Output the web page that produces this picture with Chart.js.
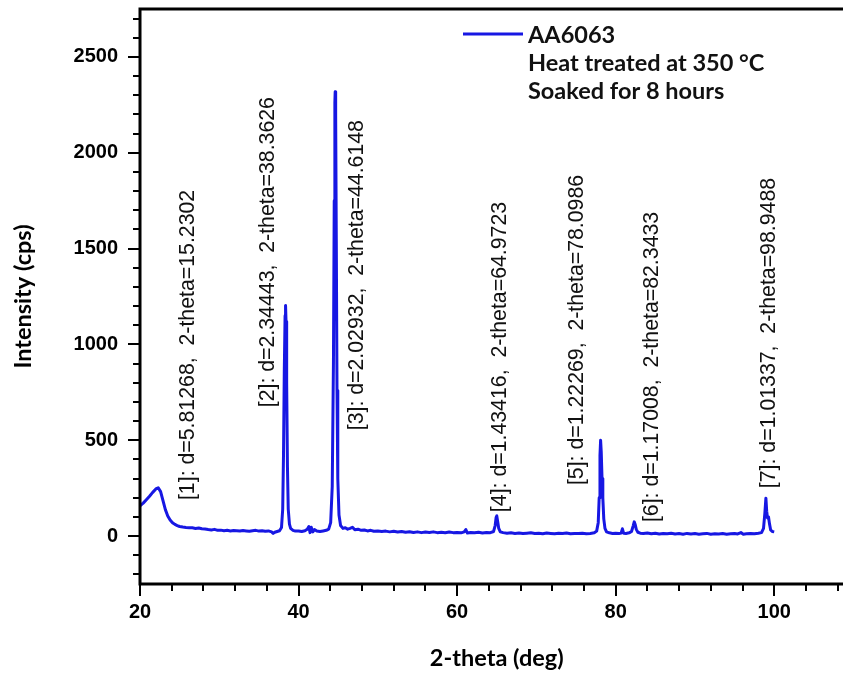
<!DOCTYPE html>
<html>
<head>
<meta charset="utf-8">
<script src="https://cdn.jsdelivr.net/npm/chart.js@4.4.1/dist/chart.umd.min.js"></script>
<style>
  html, body { margin: 0; padding: 0; background: #fff; overflow: hidden; }
  canvas { display: block; }
</style>
</head>
<body>
<canvas id="xrd" width="870" height="674"></canvas>
<script>
// AA6063 XRD scan: 2-theta (deg) vs intensity (cps)
const twoTheta = [
  20.0, 20.4, 20.8, 21.2, 21.6, 22.0, 22.3, 22.6, 22.9, 23.2, 23.5, 23.8, 24.1, 24.4, 24.7,
  25.0, 25.4, 25.8, 26.2, 26.6, 27.0, 27.4, 27.8, 28.2, 28.6, 29.0, 29.4, 29.8, 30.2, 30.6,
  31.0, 31.4, 31.8, 32.2, 32.6, 33.0, 33.4, 33.8, 34.2, 34.6, 35.0, 35.4, 35.8, 36.2, 36.6,
  36.8, 37.0, 37.3, 37.6, 37.85, 38.0, 38.1, 38.2, 38.3, 38.36, 38.42, 38.5, 38.6, 38.7, 38.85,
  39.0, 39.3, 39.6, 40.0, 40.4, 40.8, 41.1, 41.3, 41.45, 41.6, 41.8, 42.0, 42.3, 42.7, 43.1,
  43.5, 43.8, 44.05, 44.25, 44.4, 44.5, 44.58, 44.62, 44.68, 44.76, 44.85, 44.95, 45.1, 45.3, 45.6,
  45.9, 46.2, 46.5, 46.8, 47.1, 47.5, 47.9, 48.3, 48.7, 49.1, 49.5, 50.0, 50.5, 51.0, 51.5,
  52.0, 52.5, 53.0, 53.5, 54.0, 54.5, 55.0, 55.5, 56.0, 56.5, 57.0, 57.5, 58.0, 58.5, 59.0,
  59.5, 60.0, 60.5, 60.9, 61.1, 61.3, 61.7, 62.2, 62.7, 63.2, 63.7, 64.2, 64.6, 64.8, 64.92,
  65.0, 65.1, 65.25, 65.45, 65.8, 66.3, 66.8, 67.3, 67.8, 68.3, 68.8, 69.3, 69.8, 70.3, 70.8,
  71.3, 71.8, 72.3, 72.8, 73.3, 73.8, 74.3, 74.8, 75.3, 75.8, 76.3, 76.8, 77.3, 77.6, 77.8,
  77.92, 78.02, 78.1, 78.18, 78.28, 78.38, 78.5, 78.65, 78.85, 79.2, 79.6, 80.0, 80.4, 80.7, 80.85,
  81.0, 81.3, 81.7, 82.0, 82.2, 82.34, 82.45, 82.6, 82.8, 83.1, 83.5, 84.0, 84.5, 85.0, 85.5,
  86.0, 86.5, 87.0, 87.5, 88.0, 88.5, 89.0, 89.5, 90.0, 90.5, 91.0, 91.5, 92.0, 92.5, 93.0,
  93.5, 94.0, 94.5, 95.0, 95.4, 95.8, 96.1, 96.5, 97.0, 97.5, 98.0, 98.4, 98.65, 98.82, 98.95,
  99.05, 99.15, 99.28, 99.4, 99.55, 99.75, 100.0
];
const intensity = [
  158, 172, 190, 208, 228, 246, 252, 232, 185, 138, 105, 84, 70, 61, 55,
  50, 47, 45, 44, 43, 40, 42, 38, 37, 34, 32, 35, 30, 31, 28,
  30, 27, 29, 28, 26, 29, 27, 25, 28, 30, 26, 28, 25, 27, 22,
  14, 20, 24, 28, 45, 140, 420, 860, 1150, 1203, 1120, 800, 360, 140, 62,
  40, 30, 26, 27, 24, 28, 36, 50, 18, 46, 22, 34, 26, 24, 27,
  30, 36, 70, 260, 900, 1750, 2260, 2318, 2200, 1550, 760, 300, 110, 55, 40,
  44, 36, 40, 46, 33, 36, 30, 32, 27, 30, 25, 27, 24, 26, 22,
  25, 21, 24, 20, 23, 19, 22, 18, 21, 19, 22, 18, 20, 17, 21,
  18, 19, 17, 22, 34, 16, 19, 17, 20, 16, 19, 18, 24, 55, 98,
  106, 80, 40, 22, 18, 15, 17, 14, 16, 13, 15, 17, 13, 15, 12,
  16, 14, 12, 15, 13, 16, 12, 14, 13, 15, 12, 14, 17, 26, 70,
  200, 420, 500, 440, 300, 200, 90, 40, 22, 17, 14, 15, 13, 16, 38,
  15, 14, 17, 24, 52, 74, 62, 35, 20, 15, 13, 16, 12, 15, 11,
  14, 12, 15, 11, 13, 10, 14, 11, 13, 10, 12, 14, 10, 12, 11,
  13, 10, 12, 14, 11, 18, 10, 12, 14, 12, 15, 18, 40, 120, 198,
  130, 95, 100, 65, 32, 24, 22
];

// indexed reflections
const peakNo = [1, 2, 3, 4, 5, 6, 7];
const peakD = ['5.81268', '2.34443', '2.02932', '1.43416', '1.22269', '1.17008', '1.01337'];
const peakTheta = ['15.2302', '38.3626', '44.6148', '64.9723', '78.0986', '82.3433', '98.9488'];

const xTickLabels = [20, 40, 60, 80, 100];
const yTickLabels = [0, 500, 1000, 1500, 2000, 2500];
const legendLines = ['AA6063', 'Heat treated at 350 °C', 'Soaked for 8 hours'];

// where each peak label starts (axis units), text runs upward from here
const labelAt = [
  [26.05, 188], [36.2, 672], [47.35, 552], [65.4, 125], [75.1, 266], [84.6, 73], [99.3, 250]
];

const lineBlue = '#1717e3';
const tickFont = { family: 'Liberation Sans, Arial, sans-serif', size: 20, weight: 'bold' };
const titleFont = { family: 'Lato, sans-serif', size: 23.5, weight: 'bold' };

// frame + outward ticks (long major, short minor)
const frameAndTicks = {
  id: 'frameAndTicks',
  afterDraw(chart) {
    const { ctx, chartArea: { left, right, top, bottom }, scales: { x, y } } = chart;
    ctx.save();
    ctx.strokeStyle = '#000';
    ctx.lineWidth = 2;
    ctx.beginPath();
    for (let v = 20; v <= x.max; v += 4) {
      const px = Math.round(x.getPixelForValue(v));
      ctx.moveTo(px, bottom);
      ctx.lineTo(px, bottom + (v % 20 === 0 ? 12 : 7));
    }
    for (let v = -200; v <= y.max; v += 100) {
      const py = Math.round(y.getPixelForValue(v));
      ctx.moveTo(left, py);
      ctx.lineTo(left - (v % 500 === 0 ? 12 : 7), py);
    }
    ctx.stroke();
    ctx.lineWidth = 3;
    ctx.strokeRect(left, top, right - left, bottom - top);
    ctx.restore();
  }
};

// vertical peak labels
const peakLabels = {
  id: 'peakLabels',
  afterDatasetsDraw(chart) {
    const { ctx, scales: { x, y } } = chart;
    ctx.save();
    ctx.fillStyle = '#111';
    ctx.font = '21.3px "Liberation Sans", Arial, sans-serif';
    ctx.textAlign = 'left';
    ctx.textBaseline = 'middle';
    peakNo.forEach((n, i) => {
      const [lx, ly] = labelAt[i];
      ctx.save();
      ctx.translate(x.getPixelForValue(lx), y.getPixelForValue(ly));
      ctx.rotate(-Math.PI / 2);
      ctx.fillText(`[${n}]: d=${peakD[i]},  2-theta=${peakTheta[i]}`, 0, 0);
      ctx.restore();
    });
    ctx.restore();
  }
};

// legend block, top right inside the frame
const legendBlock = {
  id: 'legendBlock',
  afterDraw(chart) {
    const { ctx } = chart;
    ctx.save();
    ctx.strokeStyle = lineBlue;
    ctx.lineWidth = 3;
    ctx.beginPath();
    ctx.moveTo(463, 34);
    ctx.lineTo(523, 34);
    ctx.stroke();
    ctx.fillStyle = '#111';
    ctx.font = 'bold 23.5px Lato, sans-serif';
    ctx.textAlign = 'left';
    ctx.textBaseline = 'middle';
    legendLines.forEach((t, i) => ctx.fillText(t, 528, 35 + i * 28));
    ctx.restore();
  }
};

new Chart(document.getElementById('xrd'), {
  type: 'line',
  data: {
    datasets: [{
      label: 'AA6063',
      data: twoTheta.map((t, i) => ({ x: t, y: intensity[i] })),
      borderColor: lineBlue,
      borderWidth: 3,
      borderJoinStyle: 'round',
      pointRadius: 0,
      tension: 0,
      fill: false
    }]
  },
  options: {
    responsive: false,
    animation: false,
    layout: { padding: { left: 0, right: 16.5, top: 9, bottom: 0 } },
    scales: {
      x: {
        type: 'linear',
        min: 20,
        max: 110,
        grid: { display: false, drawTicks: false },
        border: { display: false },
        afterBuildTicks: (s) => { s.ticks = xTickLabels.map(v => ({ value: v })); },
        afterFit: (s) => { s.height = 90; s.paddingLeft = 0; s.paddingRight = 0; },
        ticks: { font: tickFont, color: '#000', padding: 16, maxRotation: 0, callback: (v) => String(v) },
        title: { display: true, text: '2-theta (deg)', font: titleFont, color: '#000', padding: { top: 0, bottom: 1 } }
      },
      y: {
        min: -250,
        max: 2750,
        grid: { display: false, drawTicks: false },
        border: { display: false },
        afterBuildTicks: (s) => { s.ticks = yTickLabels.map(v => ({ value: v })); },
        afterFit: (s) => { s.width = 140; s.paddingTop = 0; s.paddingBottom = 0; },
        ticks: { font: tickFont, color: '#000', padding: 22, callback: (v) => String(v) },
        title: { display: true, text: 'Intensity (cps)', font: titleFont, color: '#000', padding: { top: 9, bottom: 0 } }
      }
    },
    plugins: {
      legend: { display: false },
      tooltip: { enabled: false }
    }
  },
  plugins: [frameAndTicks, peakLabels, legendBlock]
});
</script>
</body>
</html>
